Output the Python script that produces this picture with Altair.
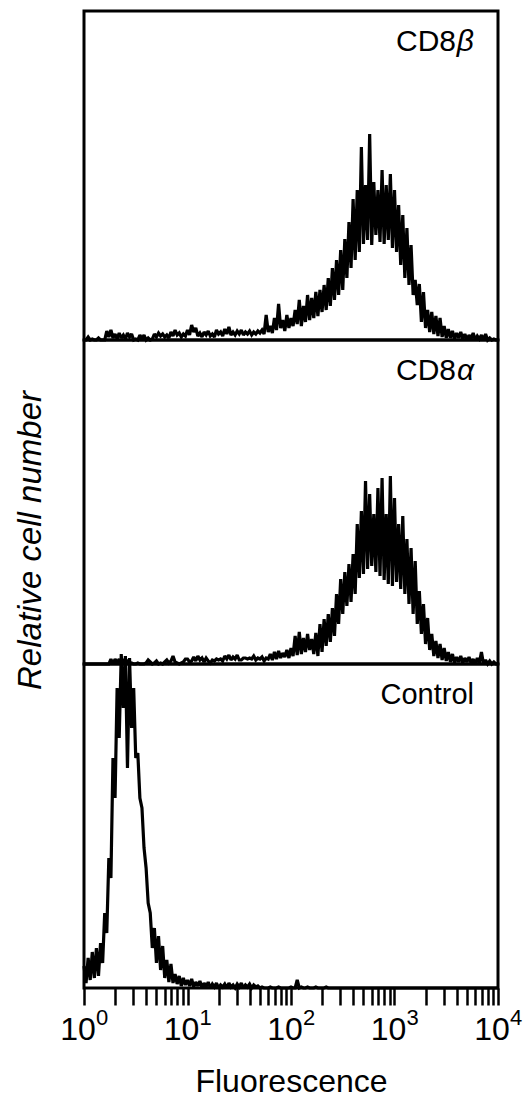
import altair as alt
import pandas as pd

# flow-cytometry channels: 50 per decade over 4 decades (bin centres)
channels = [10 ** (i / 50) for i in range(201)]

cd8b_counts = [
    0, 0, 3, 0, 1, 0, 0, 2, 0, 0,
    0, 9, 3, 10, 2, 6, 1, 7, 2, 5,
    1, 7, 3, 6, 0, 1, 0, 5, 1, 5,
    0, 2, 0, 1, 6, 3, 7, 4, 6, 3,
    5, 2, 8, 4, 10, 5, 7, 3, 6, 4,
    10, 5, 15, 8, 12, 4, 7, 3, 8, 5,
    9, 4, 6, 3, 10, 6, 8, 4, 11, 6,
    13, 5, 8, 5, 9, 6, 10, 5, 8, 6,
    9, 5, 8, 6, 9, 7, 10, 6, 25, 8,
    14, 7, 22, 10, 36, 12, 20, 9, 25, 12,
    22, 14, 30, 16, 40, 14, 34, 18, 45, 20,
    42, 22, 48, 24, 50, 28, 55, 30, 62, 34,
    72, 40, 80, 45, 90, 50, 101, 62, 118, 72,
    141, 80, 150, 88, 193, 96, 155, 100, 206, 95,
    158, 105, 150, 98, 170, 96, 155, 100, 166, 92,
    150, 88, 135, 75, 125, 62, 112, 55, 95, 45,
    60, 35, 56, 18, 48, 12, 30, 8, 28, 6,
    24, 4, 22, 3, 14, 2, 11, 2, 9, 1,
    7, 2, 8, 1, 6, 0, 5, 1, 7, 0,
    4, 1, 5, 0, 6, 0, 2, 0, 1, 0,
    0,
]

cd8a_counts = [
    0, 0, 0, 0, 0, 0, 0, 0, 0, 0,
    0, 0, 0, 5, 0, 5, 1, 5, 0, 5,
    0, 4, 0, 1, 0, 0, 1, 0, 0, 0,
    1, 4, 2, 0, 1, 3, 0, 1, 0, 2,
    4, 1, 3, 8, 2, 1, 0, 1, 2, 5,
    5, 2, 3, 7, 3, 8, 4, 6, 2, 6,
    3, 1, 4, 3, 5, 4, 5, 3, 8, 5,
    9, 4, 7, 5, 9, 4, 4, 6, 6, 5,
    6, 5, 8, 4, 6, 5, 7, 3, 6, 5,
    10, 4, 12, 5, 13, 6, 11, 7, 14, 6,
    16, 8, 28, 9, 32, 10, 26, 12, 30, 14,
    25, 10, 31, 8, 40, 12, 45, 18, 50, 22,
    56, 28, 70, 40, 85, 50, 92, 58, 100, 62,
    110, 70, 140, 86, 153, 90, 183, 95, 170, 98,
    150, 92, 176, 88, 186, 84, 150, 80, 188, 78,
    166, 82, 140, 75, 148, 70, 125, 60, 116, 50,
    103, 40, 73, 30, 60, 20, 46, 14, 30, 8,
    23, 6, 20, 4, 16, 3, 12, 2, 10, 1,
    7, 2, 8, 1, 6, 2, 7, 1, 5, 0,
    6, 1, 12, 0, 4, 0, 3, 0, 2, 0,
    0,
]

control_counts = [
    22, 5, 30, 8, 36, 10, 40, 12, 45, 25,
    75, 55, 130, 110, 230, 190, 300, 250, 334, 280,
    332, 220, 330, 260, 300, 230, 235, 190, 180, 140,
    120, 85, 75, 40, 60, 25, 52, 18, 42, 10,
    28, 6, 24, 5, 14, 4, 12, 2, 10, 3,
    8, 2, 9, 1, 6, 2, 7, 0, 5, 1,
    6, 0, 4, 1, 5, 0, 3, 1, 4, 0,
    5, 1, 3, 0, 4, 1, 5, 0, 3, 1,
    4, 0, 3, 1, 2, 0, 1, 0, 0, 0,
    1, 0, 0, 0, 1, 0, 0, 0, 0, 0,
    1, 0, 0, 8, 0, 1, 0, 0, 1, 0,
    0, 0, 1, 0, 0, 0, 0, 1, 0, 0,
    0, 0, 0, 0, 0, 0, 0, 0, 0, 0,
    0, 0, 0, 0, 0, 0, 0, 0, 0, 0,
    0, 0, 0, 0, 0, 0, 0, 0, 0, 0,
    0, 0, 0, 0, 0, 0, 0, 0, 0, 0,
    0, 0, 0, 0, 0, 0, 0, 0, 0, 0,
    0, 0, 0, 0, 0, 0, 0, 0, 0, 0,
    0, 0, 0, 0, 0, 0, 0, 0, 0, 0,
    0, 0, 0, 0, 0, 0, 0, 0, 0, 0,
    0,
]

panel_names = ["CD8", "CD8", "Control"]
panel_greek = ["β", "α", ""]

tick_values = [1, 2, 3, 4, 5, 6, 7, 8, 9,
               10, 20, 30, 40, 50, 60, 70, 80, 90,
               100, 200, 300, 400, 500, 600, 700, 800, 900,
               1000, 2000, 3000, 4000, 5000, 6000, 7000, 8000, 9000,
               10000]
decade_values = [1, 10, 100, 1000, 10000]
decade_exponents = ["0", "1", "2", "3", "4"]

FONT = "Liberation Sans"
W = 414
HEIGHTS = [329, 324, 324]

xscale = alt.Scale(type="log", domain=[1, 10000], nice=False)
frame = alt.ViewBackground(stroke="black", strokeWidth=3, strokeOpacity=1)


def panel(counts, height, name, greek, x_axis=None, y_axis=None, bottom=False):
    df = pd.DataFrame({"fluor": channels, "count": counts})
    yscale = alt.Scale(domain=[0, height], nice=False, zero=True)
    x = alt.X("fluor:Q", scale=xscale, axis=x_axis)
    y = alt.Y("count:Q", scale=yscale, axis=y_axis)
    layers = [
        alt.Chart(df).mark_line(color="black", strokeWidth=3.2, strokeJoin="miter",
                                strokeMiterLimit=2).encode(x=x, y=y)
    ]
    lab = pd.DataFrame({"fluor": [10000], "count": [height],
                        "name": [name], "greek": [greek]})
    if greek:
        layers.append(
            alt.Chart(lab).mark_text(align="right", baseline="alphabetic", dx=-24, dy=40,
                                     fontSize=30, fontStyle="italic", font=FONT, color="black")
            .encode(x=x, y=y, text="greek:N"))
        layers.append(
            alt.Chart(lab).mark_text(align="right", baseline="alphabetic", dx=-42, dy=40,
                                     fontSize=30, font=FONT, color="black")
            .encode(x=x, y=y, text="name:N"))
    else:
        layers.append(
            alt.Chart(lab).mark_text(align="right", baseline="alphabetic", dx=-24, dy=40,
                                     fontSize=29, font=FONT, color="black")
            .encode(x=x, y=y, text="name:N"))
    if bottom:
        dec = pd.DataFrame({"fluor": decade_values, "count": [0] * 5,
                            "base": ["10"] * 5, "exp": decade_exponents})
        layers.append(
            alt.Chart(dec).mark_text(align="center", baseline="alphabetic", dx=-6, dy=52,
                                     fontSize=32, font=FONT, color="black")
            .encode(x=x, y=y, text="base:N"))
        layers.append(
            alt.Chart(dec).mark_text(align="left", baseline="alphabetic", dx=12, dy=37,
                                     fontSize=22, font=FONT, color="black")
            .encode(x=x, y=y, text="exp:N"))
    return alt.layer(*layers).properties(width=W, height=height, view=frame)


x_axis_bottom = alt.Axis(values=tick_values, labels=False, tickSize=17, tickWidth=2.5,
                         tickColor="black", domain=False, grid=False,
                         title="Fluorescence", titleFont=FONT, titleFontSize=32,
                         titleFontWeight="normal", titleColor="black", titlePadding=60)

y_axis_mid = alt.Axis(title="Relative cell number", labels=False, ticks=False,
                      domain=False, grid=False, titleFont=FONT, titleFontSize=33,
                      titleFontStyle="italic", titleFontWeight="normal",
                      titleColor="black", titleX=-54, titleY=200,
                      titleBaseline="middle", titleAngle=270)

top = panel(cd8b_counts, HEIGHTS[0], panel_names[0], panel_greek[0])
mid = panel(cd8a_counts, HEIGHTS[1], panel_names[1], panel_greek[1], y_axis=y_axis_mid)
bot = panel(control_counts, HEIGHTS[2], panel_names[2], panel_greek[2],
            x_axis=x_axis_bottom, bottom=True)

chart = (
    alt.vconcat(top, mid, bot, spacing=0, bounds="flush")
    .properties(padding={"left": 12, "top": 9, "right": 0, "bottom": 0})
    .configure(font=FONT)
    .configure_view(stroke="black", strokeWidth=3, strokeOpacity=1)
)

chart.save("out.html", embed_options={"renderer": "svg", "actions": False})
